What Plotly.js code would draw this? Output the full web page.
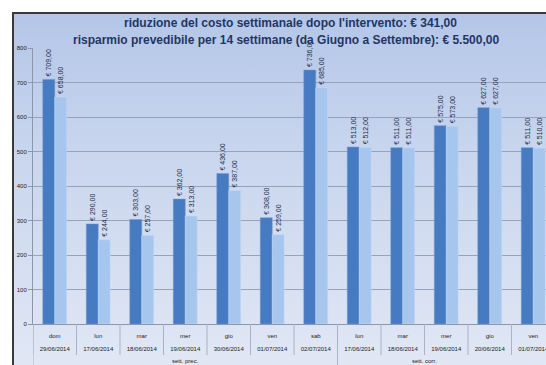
<!DOCTYPE html>
<html>
<head>
<meta charset="utf-8">
<script src="https://cdn.plot.ly/plotly-3.0.1.min.js"></script>
<style>
  html, body { margin:0; padding:0; width:546px; height:365px; overflow:hidden; background:#ffffff; }
  #frame { position:absolute; left:12px; top:12px; width:560px; height:360px;
           border-left:2px solid #3a3a3a; border-top:2px solid #3a3a3a;
           background:linear-gradient(#b4c6e8 0%, #c9d6ee 40%, #e2e8f5 100%); }
  #chart { position:absolute; left:0; top:0; width:570px; height:365px; }
</style>
</head>
<body>
<div id="frame"></div>
<div id="chart"></div>
<script>
// ---- data ----
const days   = ["dom","lun","mar","mer","gio","ven","sab","lun","mar","mer","gio","ven"];
const dates  = ["29/06/2014","17/06/2014","18/06/2014","19/06/2014","30/06/2014","01/07/2014","02/07/2014",
                "17/06/2014","18/06/2014","19/06/2014","20/06/2014","01/07/2014"];
const groups = ["sett. prec.","sett. corr."];
const groupSizes = [7, 5];
const costoPrima = [709, 290, 303, 362, 436, 308, 736, 513, 511, 575, 627, 511];
const costoDopo  = [658, 244, 257, 313, 387, 259, 685, 512, 511, 573, 627, 510];
const titleLine1 = "riduzione del costo settimanale dopo l'intervento: € 341,00";
const titleLine2 = "risparmio prevedibile per 14 settimane (da Giugno a Settembre): € 5.500,00";
const yTicks = [0,100,200,300,400,500,600,700,800];

const idx = days.map((d,i)=>i);
const sp = s => "<span style='font-size:6px'>" + s + "</span>";
const tickText = days.map((d,i)=> sp(d) + "<br>" + sp(dates[i]));
const fmt = v => "€ " + v.toFixed(2).replace(".", ",");

const traces = [
  { type:"bar", x:idx, y:costoPrima, name:"prima",
    marker:{color:"#467bc2", line:{color:"#6f98d0", width:0.5}},
    text:costoPrima.map(fmt), textposition:"outside", textangle:-90,
    textfont:{family:"Liberation Sans", size:7, color:"#1c2a48"},
    cliponaxis:false, constraintext:"none", hoverinfo:"skip" },
  { type:"bar", x:idx, y:costoDopo, name:"dopo",
    marker:{color:"#a6c6ee", line:{color:"#c8dcf5", width:0.5}},
    text:costoDopo.map(fmt), textposition:"outside", textangle:-90,
    textfont:{family:"Liberation Sans", size:7, color:"#1c2a48"},
    cliponaxis:false, constraintext:"none", hoverinfo:"skip" }
];

// boundaries between categories (decoration)
const shapes = [];
for (let b = -0.5; b <= days.length - 0.5; b += 1) {
  shapes.push({type:"line", xref:"x", yref:"paper", x0:b, x1:b, y0:0, y1:-31/276,
               line:{color:"#a9b3c6", width:1}});
}
// group dividers
let acc = 0;
groups.forEach((g,gi)=>{
  const start = acc - 0.5;
  shapes.push({type:"line", xref:"x", yref:"paper", x0:start, x1:start, y0:0, y1:-45/276,
               line:{color:"#a9b3c6", width:1}});
  acc += groupSizes[gi];
});
const annotations = [];
annotations.push({xref:"x", yref:"paper", x:3, y:-31.5/276, yanchor:"top", showarrow:false,
                  text:groups[0], font:{family:"Liberation Sans", size:6, color:"#222"}});
annotations.push({xref:"x", yref:"paper", x:8.5, y:-31.5/276, yanchor:"top", showarrow:false,
                  text:groups[1], font:{family:"Liberation Sans", size:6, color:"#222"}});
annotations.push({xref:"paper", yref:"paper", x:(290-33)/522, y:1+25/276, yanchor:"middle", showarrow:false,
                  text:"<b>"+titleLine1+"</b>", font:{family:"Liberation Sans", size:12, color:"#1f3764"}});
annotations.push({xref:"paper", yref:"paper", x:(286-33)/522, y:1+8/276, yanchor:"middle", showarrow:false,
                  text:"<b>"+titleLine2+"</b>", font:{family:"Liberation Sans", size:12, color:"#1f3764"}});

const layout = {
  width:570, height:365,
  margin:{l:33, r:15, t:48, b:41},
  paper_bgcolor:"rgba(0,0,0,0)", plot_bgcolor:"rgba(0,0,0,0)",
  showlegend:false,
  barmode:"group", bargap:0.45, bargroupgap:0,
  xaxis:{ type:"category", tickmode:"array", tickvals:idx, ticktext:tickText,
          range:[-0.5, days.length-0.5], showgrid:false, ticks:"", zeroline:false,
          showline:true, linecolor:"#8c97ab", linewidth:1,
          tickfont:{family:"Liberation Sans", size:10.5, color:"#222"}, ticklabelstandoff:0 },
  yaxis:{ range:[0,800], tickmode:"array", tickvals:yTicks, ticktext:yTicks.map(String),
          showgrid:true, gridcolor:"#97a3ba", gridwidth:1, zeroline:false,
          showline:true, linecolor:"#8c97ab", linewidth:1, ticks:"outside", ticklen:4, tickcolor:"#8c97ab",
          tickfont:{family:"Liberation Sans", size:6, color:"#222"} },
  shapes:shapes, annotations:annotations,
  font:{family:"Liberation Sans"}
};
Plotly.newPlot("chart", traces, layout, {staticPlot:true, displayModeBar:false});
</script>
</body>
</html>
